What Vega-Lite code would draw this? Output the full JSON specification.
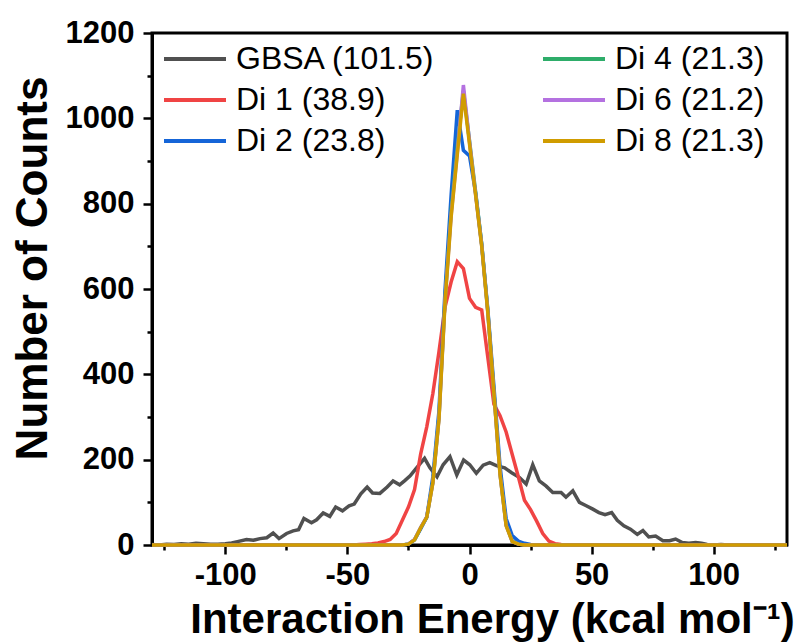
{
"$schema":"https://vega.github.io/schema/vega-lite/v6.json",
"width":635,"height":512,
"autosize":{"type":"none"},
"padding":{"left":152,"top":33,"right":15,"bottom":97},
"background":"white",
"config":{
 "view":{"stroke":"black","strokeWidth":3},
 "font":"Liberation Sans",
 "axis":{"domainColor":"black","domainWidth":3,"tickColor":"black","tickWidth":2.5,"grid":false,"labelFont":"Liberation Sans","labelFontWeight":"bold","labelFontSize":31,"labelColor":"black","titleFont":"Liberation Sans","titleFontWeight":"bold","titleFontSize":42,"titleColor":"black","labelOverlap":false,"labelFlush":false}
},
"data":{"values":[
{"series":"GBSA (101.5)","x":-130,"y":1},{"series":"GBSA (101.5)","x":-127,"y":0},{"series":"GBSA (101.5)","x":-124,"y":2},{"series":"GBSA (101.5)","x":-121,"y":1},{"series":"GBSA (101.5)","x":-118,"y":3},{"series":"GBSA (101.5)","x":-115,"y":2},{"series":"GBSA (101.5)","x":-112,"y":4},{"series":"GBSA (101.5)","x":-109,"y":3},{"series":"GBSA (101.5)","x":-106,"y":2},{"series":"GBSA (101.5)","x":-103,"y":2},{"series":"GBSA (101.5)","x":-100,"y":3},{"series":"GBSA (101.5)","x":-97.4,"y":5},{"series":"GBSA (101.5)","x":-95,"y":8},{"series":"GBSA (101.5)","x":-91.3,"y":13},{"series":"GBSA (101.5)","x":-88.5,"y":11},{"series":"GBSA (101.5)","x":-85.8,"y":15},{"series":"GBSA (101.5)","x":-83,"y":17},{"series":"GBSA (101.5)","x":-80.4,"y":28},{"series":"GBSA (101.5)","x":-78,"y":15},{"series":"GBSA (101.5)","x":-74.9,"y":27},{"series":"GBSA (101.5)","x":-72.2,"y":33},{"series":"GBSA (101.5)","x":-70,"y":36},{"series":"GBSA (101.5)","x":-67.8,"y":62},{"series":"GBSA (101.5)","x":-64.7,"y":52},{"series":"GBSA (101.5)","x":-62.6,"y":59},{"series":"GBSA (101.5)","x":-59.9,"y":75},{"series":"GBSA (101.5)","x":-57.2,"y":67},{"series":"GBSA (101.5)","x":-54.8,"y":89},{"series":"GBSA (101.5)","x":-52,"y":80},{"series":"GBSA (101.5)","x":-49.3,"y":92},{"series":"GBSA (101.5)","x":-47.2,"y":96},{"series":"GBSA (101.5)","x":-44.5,"y":120},{"series":"GBSA (101.5)","x":-41.9,"y":136},{"series":"GBSA (101.5)","x":-39.7,"y":122},{"series":"GBSA (101.5)","x":-36.7,"y":121},{"series":"GBSA (101.5)","x":-33.7,"y":136},{"series":"GBSA (101.5)","x":-31.3,"y":150},{"series":"GBSA (101.5)","x":-28.6,"y":141},{"series":"GBSA (101.5)","x":-26.5,"y":151},{"series":"GBSA (101.5)","x":-24.3,"y":162},{"series":"GBSA (101.5)","x":-21.5,"y":182},{"series":"GBSA (101.5)","x":-18.4,"y":203},{"series":"GBSA (101.5)","x":-16.2,"y":181},{"series":"GBSA (101.5)","x":-13.3,"y":160},{"series":"GBSA (101.5)","x":-10.8,"y":188},{"series":"GBSA (101.5)","x":-8,"y":207},{"series":"GBSA (101.5)","x":-5.2,"y":164},{"series":"GBSA (101.5)","x":-2.4,"y":199},{"series":"GBSA (101.5)","x":0.1,"y":188},{"series":"GBSA (101.5)","x":2.8,"y":168},{"series":"GBSA (101.5)","x":5.6,"y":187},{"series":"GBSA (101.5)","x":8.3,"y":193},{"series":"GBSA (101.5)","x":11,"y":186},{"series":"GBSA (101.5)","x":14.4,"y":181},{"series":"GBSA (101.5)","x":17.1,"y":170},{"series":"GBSA (101.5)","x":20.5,"y":158},{"series":"GBSA (101.5)","x":23.2,"y":143},{"series":"GBSA (101.5)","x":25.9,"y":188},{"series":"GBSA (101.5)","x":28.6,"y":150},{"series":"GBSA (101.5)","x":31.4,"y":138},{"series":"GBSA (101.5)","x":34.1,"y":123},{"series":"GBSA (101.5)","x":37.5,"y":123},{"series":"GBSA (101.5)","x":39.5,"y":112},{"series":"GBSA (101.5)","x":42.3,"y":127},{"series":"GBSA (101.5)","x":45,"y":100},{"series":"GBSA (101.5)","x":47.8,"y":92},{"series":"GBSA (101.5)","x":50.5,"y":84},{"series":"GBSA (101.5)","x":53,"y":76},{"series":"GBSA (101.5)","x":55.5,"y":71},{"series":"GBSA (101.5)","x":58.2,"y":76},{"series":"GBSA (101.5)","x":60.5,"y":58},{"series":"GBSA (101.5)","x":63.2,"y":45},{"series":"GBSA (101.5)","x":65.9,"y":37},{"series":"GBSA (101.5)","x":68.7,"y":25},{"series":"GBSA (101.5)","x":71,"y":34},{"series":"GBSA (101.5)","x":73.4,"y":19},{"series":"GBSA (101.5)","x":76.2,"y":21},{"series":"GBSA (101.5)","x":79.2,"y":10},{"series":"GBSA (101.5)","x":81.9,"y":10},{"series":"GBSA (101.5)","x":84.4,"y":14},{"series":"GBSA (101.5)","x":87.1,"y":6},{"series":"GBSA (101.5)","x":89.8,"y":4},{"series":"GBSA (101.5)","x":92.6,"y":6},{"series":"GBSA (101.5)","x":95,"y":4},{"series":"GBSA (101.5)","x":97.3,"y":1},{"series":"GBSA (101.5)","x":100,"y":0},{"series":"GBSA (101.5)","x":103,"y":1},{"series":"GBSA (101.5)","x":106,"y":0},{"series":"GBSA (101.5)","x":130,"y":0},
{"series":"Di 1 (38.9)","x":-130,"y":0},{"series":"Di 1 (38.9)","x":-47.5,"y":0},{"series":"Di 1 (38.9)","x":-45,"y":1},{"series":"Di 1 (38.9)","x":-42.5,"y":2},{"series":"Di 1 (38.9)","x":-40,"y":3},{"series":"Di 1 (38.9)","x":-37.5,"y":5},{"series":"Di 1 (38.9)","x":-35,"y":8},{"series":"Di 1 (38.9)","x":-32.5,"y":13},{"series":"Di 1 (38.9)","x":-30,"y":27},{"series":"Di 1 (38.9)","x":-27.5,"y":58},{"series":"Di 1 (38.9)","x":-25,"y":89},{"series":"Di 1 (38.9)","x":-22.5,"y":130},{"series":"Di 1 (38.9)","x":-20,"y":213},{"series":"Di 1 (38.9)","x":-17.5,"y":277},{"series":"Di 1 (38.9)","x":-15,"y":355},{"series":"Di 1 (38.9)","x":-12.5,"y":453},{"series":"Di 1 (38.9)","x":-10,"y":558},{"series":"Di 1 (38.9)","x":-7.5,"y":617},{"series":"Di 1 (38.9)","x":-5,"y":664},{"series":"Di 1 (38.9)","x":-2.5,"y":648},{"series":"Di 1 (38.9)","x":0,"y":578},{"series":"Di 1 (38.9)","x":2.5,"y":557},{"series":"Di 1 (38.9)","x":5,"y":551},{"series":"Di 1 (38.9)","x":7.5,"y":440},{"series":"Di 1 (38.9)","x":10,"y":330},{"series":"Di 1 (38.9)","x":12.5,"y":303},{"series":"Di 1 (38.9)","x":15,"y":265},{"series":"Di 1 (38.9)","x":17.5,"y":212},{"series":"Di 1 (38.9)","x":20,"y":160},{"series":"Di 1 (38.9)","x":22.5,"y":105},{"series":"Di 1 (38.9)","x":25,"y":83},{"series":"Di 1 (38.9)","x":27.5,"y":56},{"series":"Di 1 (38.9)","x":30,"y":27},{"series":"Di 1 (38.9)","x":32.5,"y":9},{"series":"Di 1 (38.9)","x":35,"y":3},{"series":"Di 1 (38.9)","x":37.5,"y":1},{"series":"Di 1 (38.9)","x":40,"y":0},{"series":"Di 1 (38.9)","x":130,"y":0},
{"series":"Di 2 (23.8)","x":-130,"y":0},{"series":"Di 2 (23.8)","x":-27.5,"y":0},{"series":"Di 2 (23.8)","x":-25,"y":2},{"series":"Di 2 (23.8)","x":-22.5,"y":12},{"series":"Di 2 (23.8)","x":-20,"y":38},{"series":"Di 2 (23.8)","x":-17.5,"y":65},{"series":"Di 2 (23.8)","x":-15,"y":160},{"series":"Di 2 (23.8)","x":-12.5,"y":315},{"series":"Di 2 (23.8)","x":-10,"y":600},{"series":"Di 2 (23.8)","x":-7.5,"y":822},{"series":"Di 2 (23.8)","x":-5,"y":1019},{"series":"Di 2 (23.8)","x":-2.5,"y":925},{"series":"Di 2 (23.8)","x":0,"y":912},{"series":"Di 2 (23.8)","x":2.5,"y":825},{"series":"Di 2 (23.8)","x":5,"y":705},{"series":"Di 2 (23.8)","x":7.5,"y":552},{"series":"Di 2 (23.8)","x":10,"y":372},{"series":"Di 2 (23.8)","x":12.5,"y":185},{"series":"Di 2 (23.8)","x":15,"y":62},{"series":"Di 2 (23.8)","x":17.5,"y":22},{"series":"Di 2 (23.8)","x":20,"y":9},{"series":"Di 2 (23.8)","x":22.5,"y":4},{"series":"Di 2 (23.8)","x":25,"y":1},{"series":"Di 2 (23.8)","x":27.5,"y":0},{"series":"Di 2 (23.8)","x":130,"y":0},
{"series":"Di 4 (21.3)","x":-130,"y":0},{"series":"Di 4 (21.3)","x":-27.5,"y":0},{"series":"Di 4 (21.3)","x":-25,"y":2},{"series":"Di 4 (21.3)","x":-22.5,"y":12},{"series":"Di 4 (21.3)","x":-20,"y":40},{"series":"Di 4 (21.3)","x":-17.5,"y":65},{"series":"Di 4 (21.3)","x":-15,"y":148},{"series":"Di 4 (21.3)","x":-12.5,"y":300},{"series":"Di 4 (21.3)","x":-10,"y":580},{"series":"Di 4 (21.3)","x":-7.5,"y":785},{"series":"Di 4 (21.3)","x":-5,"y":935},{"series":"Di 4 (21.3)","x":-2.5,"y":1065},{"series":"Di 4 (21.3)","x":0,"y":948},{"series":"Di 4 (21.3)","x":2.5,"y":828},{"series":"Di 4 (21.3)","x":5,"y":705},{"series":"Di 4 (21.3)","x":7.5,"y":548},{"series":"Di 4 (21.3)","x":10,"y":358},{"series":"Di 4 (21.3)","x":12.5,"y":168},{"series":"Di 4 (21.3)","x":15,"y":47},{"series":"Di 4 (21.3)","x":17.5,"y":9},{"series":"Di 4 (21.3)","x":20,"y":2},{"series":"Di 4 (21.3)","x":22.5,"y":0},{"series":"Di 4 (21.3)","x":130,"y":0},
{"series":"Di 6 (21.2)","x":-130,"y":0},{"series":"Di 6 (21.2)","x":-27.5,"y":0},{"series":"Di 6 (21.2)","x":-25,"y":2},{"series":"Di 6 (21.2)","x":-22.5,"y":13},{"series":"Di 6 (21.2)","x":-20,"y":41},{"series":"Di 6 (21.2)","x":-17.5,"y":66},{"series":"Di 6 (21.2)","x":-15,"y":146},{"series":"Di 6 (21.2)","x":-12.5,"y":297},{"series":"Di 6 (21.2)","x":-10,"y":575},{"series":"Di 6 (21.2)","x":-7.5,"y":775},{"series":"Di 6 (21.2)","x":-5,"y":920},{"series":"Di 6 (21.2)","x":-2.5,"y":1078},{"series":"Di 6 (21.2)","x":0,"y":945},{"series":"Di 6 (21.2)","x":2.5,"y":822},{"series":"Di 6 (21.2)","x":5,"y":702},{"series":"Di 6 (21.2)","x":7.5,"y":546},{"series":"Di 6 (21.2)","x":10,"y":356},{"series":"Di 6 (21.2)","x":12.5,"y":166},{"series":"Di 6 (21.2)","x":15,"y":46},{"series":"Di 6 (21.2)","x":17.5,"y":8},{"series":"Di 6 (21.2)","x":20,"y":2},{"series":"Di 6 (21.2)","x":22.5,"y":0},{"series":"Di 6 (21.2)","x":130,"y":0},
{"series":"Di 8 (21.3)","x":-130,"y":0},{"series":"Di 8 (21.3)","x":-27.5,"y":0},{"series":"Di 8 (21.3)","x":-25,"y":2},{"series":"Di 8 (21.3)","x":-22.5,"y":12},{"series":"Di 8 (21.3)","x":-20,"y":40},{"series":"Di 8 (21.3)","x":-17.5,"y":65},{"series":"Di 8 (21.3)","x":-15,"y":145},{"series":"Di 8 (21.3)","x":-12.5,"y":295},{"series":"Di 8 (21.3)","x":-10,"y":570},{"series":"Di 8 (21.3)","x":-7.5,"y":770},{"series":"Di 8 (21.3)","x":-5,"y":915},{"series":"Di 8 (21.3)","x":-2.5,"y":1058},{"series":"Di 8 (21.3)","x":0,"y":940},{"series":"Di 8 (21.3)","x":2.5,"y":820},{"series":"Di 8 (21.3)","x":5,"y":700},{"series":"Di 8 (21.3)","x":7.5,"y":545},{"series":"Di 8 (21.3)","x":10,"y":355},{"series":"Di 8 (21.3)","x":12.5,"y":165},{"series":"Di 8 (21.3)","x":15,"y":45},{"series":"Di 8 (21.3)","x":17.5,"y":8},{"series":"Di 8 (21.3)","x":20,"y":2},{"series":"Di 8 (21.3)","x":22.5,"y":0},{"series":"Di 8 (21.3)","x":130,"y":0}
]},
"encoding":{
 "x":{"field":"x","type":"quantitative","scale":{"domain":[-130,130],"nice":false,"zero":false},
  "axis":{"values":[-125,-100,-75,-50,-25,0,25,50,75,100,125],"labelExpr":"datum.value % 50 === 0 ? (datum.value + '') : ''",
   "tickSize":{"condition":{"test":"datum.value % 50 === 0","value":9},"value":5},"labelPadding":6,
   "title":"Interaction Energy (kcal mol⁻¹)","titleX":340,"titleY":87,"titleAlign":"center","titleBaseline":"alphabetic"}},
 "y":{"field":"y","type":"quantitative","scale":{"domain":[0,1200],"nice":false},
  "axis":{"values":[0,100,200,300,400,500,600,700,800,900,1000,1100,1200],"labelExpr":"datum.value % 200 === 0 ? (datum.value + '') : ''",
   "tickSize":{"condition":{"test":"datum.value % 200 === 0","value":9},"value":5},"labelPadding":9,
   "title":"Number of Counts","titleFontSize":44,"titleAngle":270,"titleX":-106,"titleY":235,"titleAlign":"center","titleBaseline":"alphabetic"}},
 "color":{"field":"series","type":"nominal",
  "scale":{"domain":["GBSA (101.5)","Di 1 (38.9)","Di 2 (23.8)","Di 4 (21.3)","Di 6 (21.2)","Di 8 (21.3)"],
           "range":["#505050","#F04444","#1565D8","#2EAD6A","#B471E0","#D09C00"]},
  "legend":{"orient":"none","legendX":10,"legendY":9,"columns":2,"symbolType":"stroke","symbolSize":3844,"symbolStrokeWidth":4,
   "labelFontSize":32,"labelFont":"Liberation Sans","labelColor":"black","labelOffset":8,"labelLimit":400,"clipHeight":34,"rowPadding":7,"columnPadding":105,"title":null,"padding":0}}
},
"layer":[
 {"transform":[{"filter":"datum.series === 'GBSA (101.5)'"}],"mark":{"type":"line","strokeWidth":3.5}},
 {"transform":[{"filter":"datum.series === 'Di 1 (38.9)'"}],"mark":{"type":"line","strokeWidth":3.5}},
 {"transform":[{"filter":"datum.series === 'Di 2 (23.8)'"}],"mark":{"type":"line","strokeWidth":3.5}},
 {"transform":[{"filter":"datum.series === 'Di 4 (21.3)'"}],"mark":{"type":"line","strokeWidth":3.5}},
 {"transform":[{"filter":"datum.series === 'Di 6 (21.2)'"}],"mark":{"type":"line","strokeWidth":3.5}},
 {"transform":[{"filter":"datum.series === 'Di 8 (21.3)'"}],"mark":{"type":"line","strokeWidth":3.5}}
]
}
